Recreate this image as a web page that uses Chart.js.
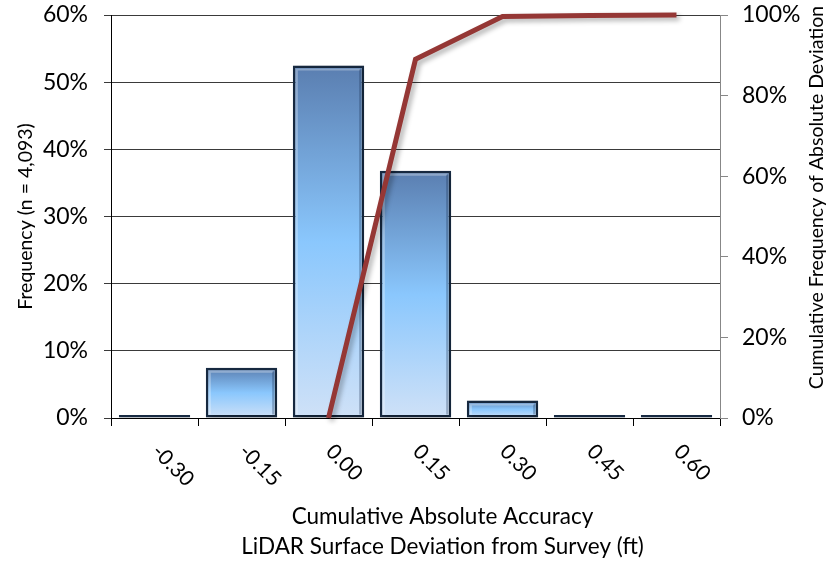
<!DOCTYPE html>
<html>
<head>
<meta charset="utf-8">
<script src="https://cdn.jsdelivr.net/npm/chart.js@4.4.1/dist/chart.umd.min.js"></script>
<style>
  html, body { margin: 0; padding: 0; background: #ffffff; }
  #wrap { width: 828px; height: 562px; }
</style>
</head>
<body>
<div id="wrap"><canvas id="chart" width="828" height="562"></canvas></div>
<script>
// Histogram bins (ft) and their share of the 4,093 points
const categories = ['-0.30', '-0.15', '0.00', '0.15', '0.30', '0.45', '0.60'];
const frequencyPct = [0.4, 7.5, 52.5, 36.8, 2.6, 0.1, 0.1];
// Cumulative frequency of absolute deviation
const cumulativePct = [null, null, 0, 89.0, 99.6, 99.9, 100];

const leftTickStep = 10;
const leftMax = 60;
const rightTickStep = 20;
const rightMax = 100;

const xTitle = ['Cumulative Absolute Accuracy', 'LiDAR Surface Deviation from Survey (ft)'];
const leftTitle = 'Frequency (n = 4,093)';
const rightTitle = 'Cumulative Frequency of Absolute Deviation';

const FONT = 'Lato';

// Vertical gradient per bar: dark steel blue at the top, bright sky blue, pale at the base
function barFill(ctx) {
  const chart = ctx.chart;
  const ys = chart.scales && chart.scales.y;
  if (!ys || ctx.raw == null || !chart.chartArea) return '#86bff5';
  const top = ys.getPixelForValue(ctx.raw);
  const base = ys.getPixelForValue(0);
  const g = chart.ctx.createLinearGradient(0, top, 0, Math.max(base, top + 1));
  g.addColorStop(0, '#5a7eb0');
  g.addColorStop(0.5, '#8ac7fd');
  g.addColorStop(1, '#cfe1f7');
  return g;
}

// Soft drop shadows under bars and line, plus a light bevel on each bar
const shadowPlugin = {
  id: 'shadows',
  beforeDatasetDraw(chart, args) {
    const c = chart.ctx;
    c.save();
    if (args.meta.type === 'bar') {
      c.shadowColor = 'rgba(0,0,0,0.35)';
      c.shadowBlur = 5;
      c.shadowOffsetX = 1.5;
      c.shadowOffsetY = 1.5;
    } else {
      c.shadowColor = 'rgba(0,0,0,0.30)';
      c.shadowBlur = 5;
      c.shadowOffsetX = 3;
      c.shadowOffsetY = 3;
    }
  },
  afterDatasetDraw(chart, args) {
    const c = chart.ctx;
    c.restore();
    if (args.meta.type !== 'bar') return;
    c.save();
    args.meta.data.forEach(el => {
      const left = el.x - el.width / 2;
      const right = el.x + el.width / 2;
      const top = Math.min(el.y, el.base);
      const bottom = Math.max(el.y, el.base);
      if (bottom - top < 10) return;
      c.lineWidth = 2;
      c.strokeStyle = 'rgba(255,255,255,0.30)';
      c.beginPath();
      c.moveTo(left + 4, bottom - 3);
      c.lineTo(left + 4, top + 4);
      c.lineTo(right - 4, top + 4);
      c.stroke();
      c.strokeStyle = 'rgba(20,40,70,0.30)';
      c.beginPath();
      c.moveTo(right - 4, top + 4);
      c.lineTo(right - 4, bottom - 3);
      c.stroke();
    });
    c.restore();
  }
};

// Rotated category labels, the two-line axis title and the right-hand axis title
const textPlugin = {
  id: 'extraText',
  afterDraw(chart) {
    const c = chart.ctx;
    const xs = chart.scales.x;
    const y1 = chart.scales.y1;
    const area = chart.chartArea;
    c.save();
    c.fillStyle = '#000000';

    c.font = '21px ' + FONT;
    c.textAlign = 'left';
    c.textBaseline = 'middle';
    categories.forEach((lab, i) => {
      const px = xs.getPixelForValue(i);
      c.save();
      c.translate(px + 1, xs.top + 30);
      c.rotate(Math.PI / 4);
      c.fillText(lab, 0, 0);
      c.restore();
    });

    c.font = '22.5px ' + FONT;
    c.textAlign = 'center';
    const cx = (area.left + area.right) / 2 + 27;
    xTitle.forEach((line, i) => {
      c.fillText(line, cx, xs.top + 99 + i * 30);
    });

    c.font = '19.5px ' + FONT;
    c.save();
    c.translate(y1.right - 11, (area.top + area.bottom) / 2 - 19);
    c.rotate(-Math.PI / 2);
    c.fillText(rightTitle, 0, 0);
    c.restore();

    c.restore();
  }
};

// Value axes keep a fixed width and add no extra room for their end labels
function fixVertical(width) {
  return s => {
    s.width = width;
    s.paddingTop = 0;
    s.paddingBottom = 0;
  };
}

new Chart(document.getElementById('chart'), {
  data: {
    labels: categories,
    datasets: [
      {
        type: 'line',
        label: 'Cumulative',
        data: cumulativePct,
        yAxisID: 'y1',
        borderColor: '#953735',
        borderWidth: 5,
        borderJoinStyle: 'miter',
        pointRadius: 0,
        tension: 0,
        spanGaps: false,
        clip: false,
        order: 1
      },
      {
        type: 'bar',
        label: 'Frequency',
        data: frequencyPct,
        yAxisID: 'y',
        backgroundColor: barFill,
        borderColor: '#172a42',
        borderWidth: 2.5,
        borderSkipped: false,
        minBarLength: 3,
        barPercentage: 0.82,
        categoryPercentage: 1.0,
        order: 2
      }
    ]
  },
  options: {
    responsive: false,
    animation: false,
    devicePixelRatio: 1,
    layout: { padding: { top: 15, left: 0, right: 0, bottom: 0 } },
    plugins: {
      legend: { display: false },
      tooltip: { enabled: false }
    },
    scales: {
      x: {
        type: 'category',
        offset: true,
        grid: {
          offset: true,
          drawOnChartArea: false,
          drawTicks: true,
          tickLength: 8,
          color: '#000000'
        },
        border: { display: true, color: '#000000', width: 1 },
        ticks: { display: false },
        title: { display: false },
        afterFit(s) {
          s.height = 144;
          s.paddingLeft = 0;
          s.paddingRight = 0;
        }
      },
      y: {
        position: 'left',
        min: 0,
        max: leftMax,
        grid: {
          color: '#3a3a3a',
          lineWidth: 1,
          drawTicks: true,
          tickLength: 7
        },
        border: { display: true, color: '#000000', width: 1 },
        ticks: {
          stepSize: leftTickStep,
          padding: 16,
          color: '#000000',
          font: { family: FONT, size: 23, lineHeight: 1.2 },
          callback: v => v + '%'
        },
        title: {
          display: true,
          text: leftTitle,
          color: '#000000',
          font: { family: FONT, size: 19.5, lineHeight: 1.2 },
          padding: { top: 14, bottom: 0 }
        },
        afterFit: fixVertical(111)
      },
      y1: {
        position: 'right',
        min: 0,
        max: rightMax,
        grid: {
          drawOnChartArea: false,
          drawTicks: true,
          tickLength: 8,
          color: '#878787'
        },
        border: { display: true, color: '#878787', width: 1 },
        ticks: {
          stepSize: rightTickStep,
          padding: 14,
          color: '#000000',
          font: { family: FONT, size: 23, lineHeight: 1.2 },
          callback: v => v + '%'
        },
        afterFit: fixVertical(108)
      }
    }
  },
  plugins: [shadowPlugin, textPlugin]
});
</script>
</body>
</html>
